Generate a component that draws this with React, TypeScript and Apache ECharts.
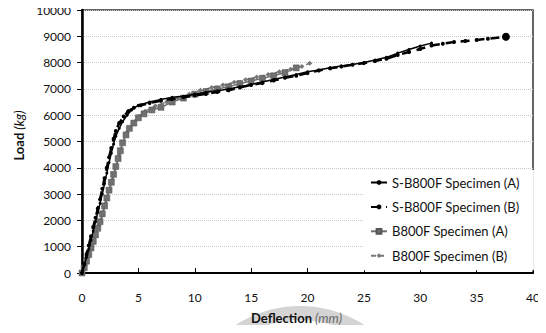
import React, { useEffect, useRef } from "react";
import * as echarts from "echarts";

const xTicks = [0, 5, 10, 15, 20, 25, 30, 35, 40];
const yTicks = [0, 1000, 2000, 3000, 4000, 5000, 6000, 7000, 8000, 9000, 10000];

const seriesNames = [
  "S-B800F Specimen (A)",
  "S-B800F Specimen (B)",
  "B800F Specimen (A)",
  "B800F Specimen (B)",
];

const sA_x = [0, 0.2, 0.4, 0.6, 0.8, 1.0, 1.2, 1.4, 1.6, 1.8, 2.0, 2.2, 2.4, 2.6, 2.8, 3.0, 3.3, 3.6, 4.0, 4.4, 5.0, 6.0, 7.0, 8.0, 9.0, 10.0, 11.0, 12.0, 13.0, 14.0, 15.0, 16.0, 17.0, 18.0, 19.0, 20.0, 21.0, 22.0, 23.0, 24.0, 25.0, 26.0, 27.0, 28.0, 29.0, 30.0, 31.0];
const sA_y = [0, 300, 600, 900, 1250, 1600, 1950, 2300, 2650, 3000, 3400, 3800, 4200, 4550, 4900, 5200, 5500, 5750, 6000, 6200, 6380, 6500, 6600, 6680, 6720, 6800, 6870, 6930, 7000, 7080, 7170, 7260, 7360, 7450, 7550, 7650, 7720, 7800, 7870, 7930, 8000, 8100, 8200, 8360, 8500, 8630, 8740];

const sB_x = [0, 0.2, 0.4, 0.6, 0.8, 1.0, 1.2, 1.4, 1.6, 1.8, 2.0, 2.2, 2.4, 2.6, 2.8, 3.0, 3.3, 3.7, 4.1, 4.6, 5.2, 6.0, 7.0, 8.0, 9.0, 10.0, 11.0, 12.0, 13.0, 14.0, 15.0, 16.0, 17.0, 18.0, 19.0, 20.0, 21.0, 22.0, 23.0, 24.0, 25.0, 26.0, 27.0, 28.0, 29.0, 30.0, 31.0, 32.0, 33.0, 34.0, 35.0, 36.0, 37.6];
const sB_y = [0, 350, 700, 1050, 1400, 1750, 2100, 2450, 2800, 3200, 3600, 4000, 4400, 4750, 5100, 5400, 5700, 5950, 6150, 6280, 6380, 6460, 6550, 6620, 6680, 6750, 6810, 6880, 6950, 7050, 7150, 7220, 7320, 7420, 7500, 7600, 7700, 7780, 7850, 7920, 7980, 8060, 8150, 8290, 8400, 8520, 8650, 8720, 8780, 8820, 8860, 8910, 8980];

const bA_x = [0, 0.2, 0.4, 0.6, 0.8, 1.0, 1.2, 1.4, 1.6, 1.8, 2.0, 2.2, 2.4, 2.6, 2.8, 3.0, 3.2, 3.4, 3.6, 3.9, 4.2, 4.6, 5.0, 5.5, 6.2, 7.0, 8.0, 9.0, 10.0, 11.0, 12.0, 13.0, 14.0, 15.0, 16.0, 17.0, 18.0, 19.0];
const bA_y = [0, 200, 450, 700, 950, 1200, 1450, 1700, 1950, 2250, 2550, 2850, 3150, 3450, 3750, 4050, 4350, 4650, 4950, 5250, 5500, 5700, 5900, 6050, 6200, 6300, 6500, 6650, 6800, 6900, 7000, 7080, 7200, 7300, 7400, 7500, 7620, 7800];

const bB_x = [0, 0.3, 0.6, 0.9, 1.2, 1.5, 1.8, 2.1, 2.4, 2.7, 3.0, 3.3, 3.6, 4.0, 4.5, 5.0, 5.6, 6.5, 7.5, 8.5, 9.5, 10.5, 11.5, 12.5, 13.5, 14.5, 15.5, 16.5, 17.5, 18.5, 19.5, 20.2];
const bB_y = [0, 300, 650, 1000, 1400, 1800, 2200, 2650, 3100, 3550, 4000, 4500, 4950, 5350, 5700, 5950, 6150, 6350, 6500, 6650, 6800, 6950, 7050, 7150, 7250, 7350, 7450, 7550, 7650, 7750, 7850, 7980];

const zip = (xs: number[], ys: number[]) => xs.map((x, i) => [x, ys[i]]);

const FONT = "Lato";

export default function App() {
  const ref = useRef<HTMLDivElement>(null);
  useEffect(() => {
    if (!ref.current) return;
    const chart = echarts.init(ref.current, null, { renderer: "svg" });
    const sBData: any[] = zip(sB_x, sB_y);
    sBData[sBData.length - 1] = { value: sBData[sBData.length - 1], symbolSize: 8 };
    chart.setOption({
      animation: false,
      textStyle: { fontFamily: FONT },
      grid: {
        left: 82,
        right: 13,
        top: 10,
        bottom: 60,
        show: true,
        borderColor: "#333",
        borderWidth: 1.5,
      },
      graphic: [
        {
          type: "ring",
          z: -10,
          silent: true,
          shape: { cx: 300, cy: 424, r: 118, r0: 104 },
          style: { fill: "#d4d4d4" },
        },
      ],
      legend: {
        orient: "vertical",
        left: 364,
        top: 170,
        backgroundColor: "#fff",
        padding: [6, 14, 8, 6],
        itemGap: 11.4,
        itemWidth: 16,
        itemHeight: 6,
        textStyle: { fontFamily: FONT, fontSize: 13, color: "#111" },
        data: seriesNames,
      },
      xAxis: {
        type: "value",
        min: 0,
        max: 40,
        interval: 5,
        axisLine: { show: true, onZero: false, lineStyle: { color: "#000", width: 2 } },
        axisTick: { show: true, inside: true, length: 5, lineStyle: { color: "#000" } },
        axisLabel: {
          margin: 18,
          fontSize: 12,
          color: "#111",
          fontFamily: FONT,
          formatter: (v: number) => (xTicks.includes(v) ? String(v) : ""),
        },
        splitLine: { show: false },
        name: "{b|Deflection} {i|(mm)}",
        nameLocation: "middle",
        nameGap: 38,
        nameTextStyle: {
          padding: [0, 22, 0, 0],
          rich: {
            b: { fontWeight: "bold", fontSize: 13, color: "#111", fontFamily: FONT },
            i: { fontStyle: "italic", fontSize: 13, color: "#666", fontFamily: FONT },
          },
        },
      },
      yAxis: {
        type: "value",
        min: 0,
        max: 10000,
        interval: 1000,
        axisLine: { show: true, onZero: false, lineStyle: { color: "#000", width: 2.5 } },
        axisTick: { show: true, inside: false, length: 5, lineStyle: { color: "#000" } },
        axisLabel: {
          margin: 11,
          fontSize: 12,
          color: "#111",
          fontFamily: FONT,
          formatter: (v: number) => (yTicks.includes(v) ? String(v) : ""),
        },
        splitLine: { show: true, lineStyle: { color: "#c8c8c8", type: "dotted", width: 1 } },
        name: "{b|Load} {i|(kg)}",
        nameLocation: "middle",
        nameGap: 54,
        nameTextStyle: {
          padding: [0, 0, 0, 12],
          rich: {
            b: { fontWeight: "bold", fontSize: 13, color: "#111", fontFamily: FONT },
            i: { fontStyle: "italic", fontSize: 13, color: "#111", fontFamily: FONT },
          },
        },
      },
      series: [
        {
          name: seriesNames[3],
          type: "line",
          data: zip(bB_x, bB_y),
          symbol: "diamond",
          symbolSize: 5,
          itemStyle: { color: "#777" },
          lineStyle: { color: "#777", width: 1.5, type: [5, 3] },
          z: 3,
        },
        {
          name: seriesNames[2],
          type: "line",
          data: zip(bA_x, bA_y),
          symbol: "rect",
          symbolSize: 6,
          itemStyle: { color: "#707070", borderColor: "#555", borderWidth: 0.5 },
          lineStyle: { color: "#707070", width: 1.5 },
          z: 4,
        },
        {
          name: seriesNames[1],
          type: "line",
          data: sBData,
          symbol: "circle",
          symbolSize: 4,
          itemStyle: { color: "#000" },
          lineStyle: { color: "#000", width: 2.5, type: [9, 6] },
          z: 5,
        },
        {
          name: seriesNames[0],
          type: "line",
          data: zip(sA_x, sA_y),
          symbol: "circle",
          symbolSize: 3,
          itemStyle: { color: "#000" },
          lineStyle: { color: "#000", width: 1.5 },
          z: 6,
        },
      ],
    });
    return () => chart.dispose();
  }, []);
  return <div ref={ref} style={{ width: 546, height: 333, margin: -8, background: "#fff" }} />;
}
